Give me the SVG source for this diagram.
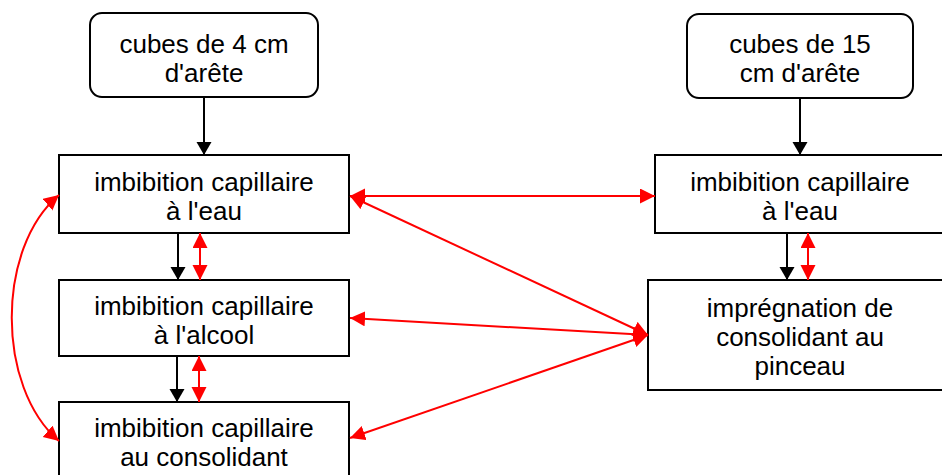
<svg xmlns="http://www.w3.org/2000/svg" width="942" height="475" viewBox="0 0 942 475">
<style>
.box{fill:#fff;stroke:#000;stroke-width:2}
.t{font-family:"Liberation Sans",Arial,sans-serif;font-size:26px;fill:#000;text-anchor:middle}
.blk{stroke:#000;stroke-width:2;fill:none}
.red{stroke:#f00;stroke-width:2;fill:none}
</style>
<defs>
<marker id="ab" markerUnits="userSpaceOnUse" markerWidth="14" markerHeight="16" refX="13" refY="7.5" orient="auto">
<path d="M0,0 L13,7.5 L0,15 Z" fill="#000"/>
</marker>
<marker id="ar" markerUnits="userSpaceOnUse" markerWidth="16" markerHeight="16" refX="15" refY="7.5" orient="auto-start-reverse">
<path d="M0,0 L15,7.5 L0,15 Z" fill="#f00"/>
</marker>
</defs>
<rect width="942" height="475" fill="#fff"/>
<g id="n1"><rect class="box" x="90" y="13" width="228" height="84" rx="12"/><text class="t" x="204" y="53">cubes de 4 cm</text><text class="t" x="204" y="82">d'arête</text></g>
<g id="n2"><rect class="box" x="687" y="14" width="226" height="84" rx="12"/><text class="t" x="800" y="53">cubes de 15</text><text class="t" x="800" y="82">cm d'arête</text></g>
<g id="n3"><rect class="box" x="59" y="155" width="290" height="78"/><text class="t" x="204" y="191">imbibition capillaire</text><text class="t" x="204" y="220">à l'eau</text></g>
<g id="n4"><rect class="box" x="59" y="280" width="290" height="76"/><text class="t" x="204" y="315">imbibition capillaire</text><text class="t" x="204" y="344">à l'alcool</text></g>
<g id="n5"><rect class="box" x="59" y="402" width="290" height="90"/><text class="t" x="204" y="437">imbibition capillaire</text><text class="t" x="204" y="466">au consolidant</text></g>
<g id="n6"><rect class="box" x="655" y="155" width="292" height="78"/><text class="t" x="800" y="191">imbibition capillaire</text><text class="t" x="800" y="220">à l'eau</text></g>
<g id="n7"><rect class="box" x="648" y="280" width="306" height="110"/><text class="t" x="800" y="317">imprégnation de</text><text class="t" x="800" y="346">consolidant au</text><text class="t" x="800" y="375">pinceau</text></g>
<g id="connectors">
<line class="blk" x1="204" y1="97" x2="204" y2="155" marker-end="url(#ab)"/>
<line class="blk" x1="800" y1="98" x2="800" y2="155" marker-end="url(#ab)"/>
<line class="blk" x1="178" y1="233" x2="178" y2="280" marker-end="url(#ab)"/>
<line class="blk" x1="177" y1="356" x2="177" y2="402" marker-end="url(#ab)"/>
<line class="blk" x1="787" y1="233" x2="787" y2="280" marker-end="url(#ab)"/>
<line class="red" x1="200" y1="233" x2="200" y2="280" marker-start="url(#ar)" marker-end="url(#ar)"/>
<line class="red" x1="199" y1="356" x2="199" y2="402" marker-start="url(#ar)" marker-end="url(#ar)"/>
<line class="red" x1="808" y1="233" x2="808" y2="280" marker-start="url(#ar)" marker-end="url(#ar)"/>
<line class="red" x1="350" y1="196" x2="655" y2="196" marker-start="url(#ar)" marker-end="url(#ar)"/>
<line class="red" x1="350" y1="196" x2="648" y2="335" marker-start="url(#ar)" marker-end="url(#ar)"/>
<line class="red" x1="350" y1="318" x2="648" y2="335" marker-start="url(#ar)" marker-end="url(#ar)"/>
<line class="red" x1="350" y1="438" x2="648" y2="335" marker-start="url(#ar)" marker-end="url(#ar)"/>
<path class="red" d="M59,195 C-4,248 -4,387 59,441" marker-start="url(#ar)" marker-end="url(#ar)"/>
</g>
</svg>
